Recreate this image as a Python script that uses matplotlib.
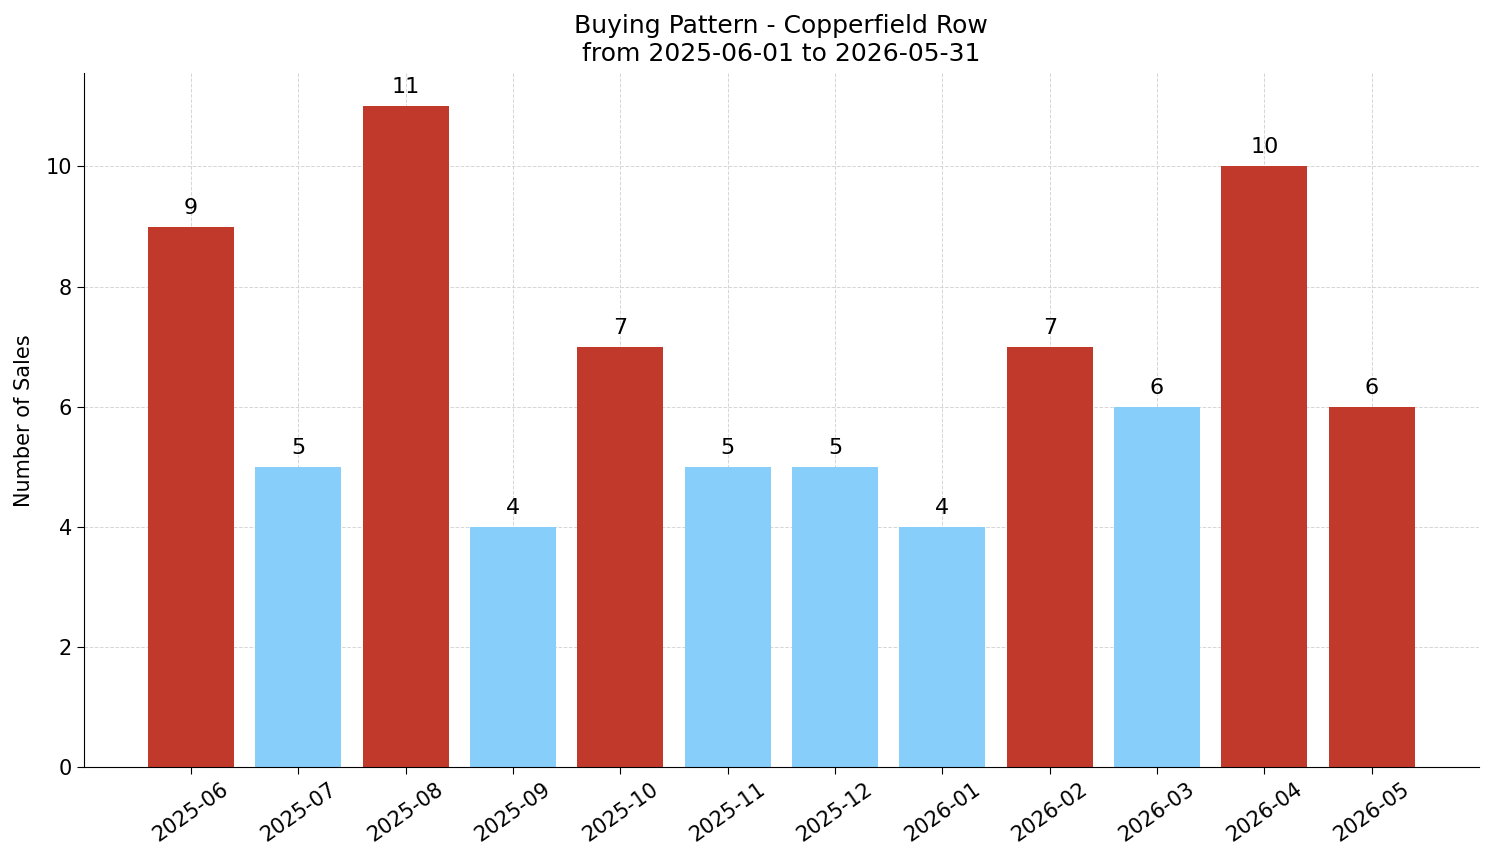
import matplotlib.pyplot as plt
import numpy as np

months = ['2025-06', '2025-07', '2025-08', '2025-09', '2025-10', '2025-11',
          '2025-12', '2026-01', '2026-02', '2026-03', '2026-04', '2026-05']
sales = [9, 5, 11, 4, 7, 5, 5, 4, 7, 6, 10, 6]
highlight = [True, False, True, False, True, False,
             False, False, True, False, True, True]

red = '#c0392b'
blue = '#87cefa'

fig, ax = plt.subplots(figsize=(14.94, 8.63), dpi=100)
fig.subplots_adjust(left=0.056, right=0.99, top=0.915, bottom=0.111)

colors = [red if h else blue for h in highlight]
x = np.arange(len(months))
bars = ax.bar(x, sales, width=0.8, color=colors, zorder=2)

for b, v in zip(bars, sales):
    ax.text(b.get_x() + b.get_width() / 2, v + 0.15, str(v),
            ha='center', va='bottom', fontsize=16)

ax.set_xticks(x)
ax.set_xticklabels(months, rotation=35, fontsize=15)
ax.tick_params(axis='y', labelsize=15)
ax.tick_params(length=5)
ax.set_xlim(-1, 12)
ax.set_ylim(0, 11.55)
ax.set_ylabel('Number of Sales', fontsize=15, labelpad=8)
ax.set_title('Buying Pattern - Copperfield Row\nfrom 2025-06-01 to 2026-05-31', fontsize=18, pad=9)
ax.grid(True, linestyle='--', color='#cccccc', alpha=0.8, linewidth=0.7, zorder=0)
ax.spines['top'].set_visible(False)
ax.spines['right'].set_visible(False)

plt.savefig('out.png', dpi=100)
